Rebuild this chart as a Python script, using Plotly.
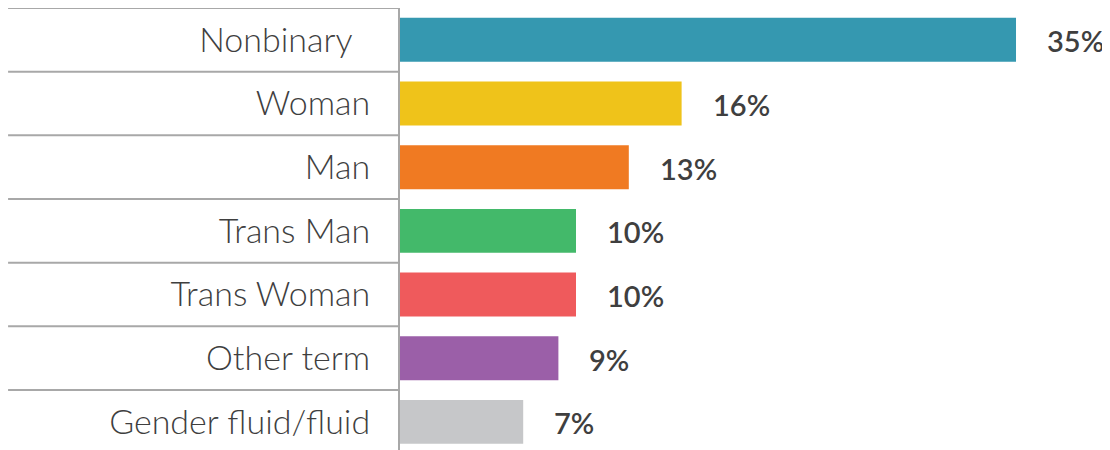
import plotly.graph_objects as go

categories = ["Nonbinary", "Woman", "Man", "Trans Man", "Trans Woman", "Other term", "Gender fluid/fluid"]
tick_labels = ["Nonbinary\u00a0\u00a0", "Woman", "Man", "Trans Man", "Trans Woman", "Other term", "Gender fluid/fluid"]
values = [35, 16, 13, 10, 10, 9, 7]
value_labels = ["35%", "16%", "13%", "10%", "10%", "9%", "7%"]
colors = ["#3598B0", "#EFC31A", "#F07A22", "#43B96A", "#EF5A5C", "#9B5FA8", "#C6C7C9"]

LINE = "#A8A8A8"
TEXT = "#3F3F3F"

fig = go.Figure(go.Bar(
    x=values, y=categories, orientation="h",
    marker=dict(color=colors, line=dict(width=0)),
    width=0.69, hoverinfo="skip",
))

for c, v, t in zip(categories, values, value_labels):
    fig.add_annotation(x=v, y=c, text=t, xanchor="left", yanchor="middle",
                       xshift=29, yshift=-1, showarrow=False,
                       font=dict(family="Lato", size=29, color=TEXT, weight=600))

for i in range(len(categories)):
    fig.add_shape(type="line", xref="paper", yref="y",
                  x0=-0.552, x1=0, y0=i - 0.5, y1=i - 0.5,
                  line=dict(color=LINE, width=2))

fig.update_layout(
    width=1102, height=442,
    margin=dict(l=392, r=0, t=0, b=0),
    paper_bgcolor="white", plot_bgcolor="white",
    showlegend=False,
    xaxis=dict(range=[0, 40.34], visible=False, fixedrange=True),
    yaxis=dict(categoryorder="array", categoryarray=categories,
               tickmode="array", tickvals=categories, ticktext=tick_labels,
               range=[6.442, -0.5], showline=True, linecolor=LINE, linewidth=2,
               showgrid=False, zeroline=False, ticks="", ticklabelstandoff=21,
               tickfont=dict(family="Lato", size=34, color=TEXT, weight=300)),
)

fig.write_html("out.html")
